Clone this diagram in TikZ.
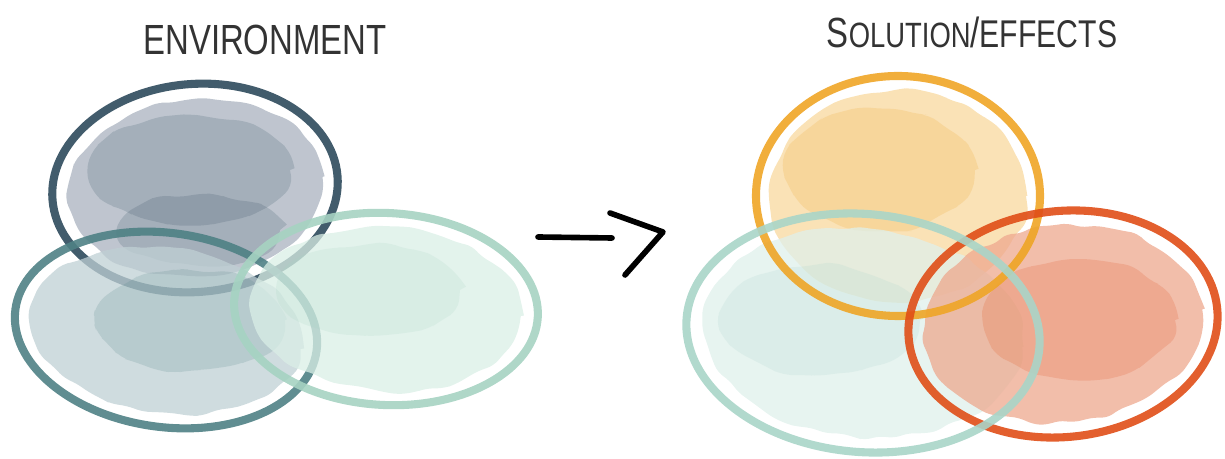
\documentclass[tikz,border=0pt]{standalone}
\usepackage{fontspec}
\usepackage{xcolor}
\usepackage{tikz}
\usetikzlibrary{decorations.pathmorphing}
\newfontfamily\handfont{Liberation Sans}[FakeStretch=0.78]
\definecolor{EnvSlate}{HTML}{2E4A5C}
\definecolor{EnvSlateFill}{HTML}{A9B2BF}
\definecolor{EnvTeal}{HTML}{4F8185}
\definecolor{EnvTealFill}{HTML}{BFD0D4}
\definecolor{EnvMint}{HTML}{A6D3C2}
\definecolor{EnvMintFill}{HTML}{DAEFE6}
\definecolor{SolOrange}{HTML}{EFA526}
\definecolor{SolOrangeFill}{HTML}{F8D89E}
\definecolor{SolRed}{HTML}{E04E17}
\definecolor{SolRedFill}{HTML}{EEA88E}
\definecolor{SolMint}{HTML}{A9D5C8}
\definecolor{SolMintFill}{HTML}{DFF0EB}

\begin{document}
\begin{tikzpicture}[x=0.1mm,y=-0.1mm,
  blob/.style={decorate,decoration={random steps,segment length=4pt,amplitude=.8pt},rounded corners=2pt,fill opacity=.75},
  spot/.style={decorate,decoration={random steps,segment length=5pt,amplitude=1pt},rounded corners=3pt,fill opacity=.18},
  ring/.style={line width=2.3pt,draw opacity=.9},
  title/.style={font=\handfont\fontsize{12}{14}\selectfont,text=black!80}]
\useasboundingbox (0,0) rectangle (1225,459);

% titles
\node[title] (env) at (265,40) {ENVIRONMENT};
\node[title] (sol) at (972,32) {S{\fontsize{10}{12}\selectfont OLUTION}/{\fontsize{11}{12}\selectfont EFFECTS}};

% environment
\fill[EnvSlateFill,blob,rotate around={5:(195,188)}] (195,188) ellipse (128 and 88);
\fill[EnvSlate,spot] (190,170) ellipse (100 and 55);
\fill[EnvSlate,spot] (200,230) ellipse (80 and 35);
\draw[EnvSlate,ring,rotate around={5:(195,188)}] (195,188) ellipse (143 and 104);
\fill[EnvTealFill,blob,rotate around={-8:(166,330)}] (166,330) ellipse (136 and 82);
\fill[EnvTeal,spot] (190,320) ellipse (95 and 50);
\draw[EnvTeal,ring,rotate around={-8:(166,330)}] (166,330) ellipse (152 and 97);
\fill[EnvMintFill,blob,rotate around={-3:(386,309)}] (386,309) ellipse (135 and 82);
\fill[EnvMint,spot] (370,290) ellipse (90 and 45);
\draw[EnvMint,ring,rotate around={-3:(386,309)}] (386,309) ellipse (152 and 96);

% arrow
\coordinate (arrL) at (538,237);
\coordinate (arrM) at (612,238);
\coordinate (tipA) at (610,213);
\coordinate (tipB) at (663,232);
\coordinate (tipC) at (625,275);
\draw[line width=1.6pt,line cap=round] (arrL) -- (arrM);
\draw[line width=1.6pt,line cap=round,line join=round] (tipA) -- (tipB) -- (tipC);

% solution / effects
\fill[SolOrangeFill,blob] (898,196) ellipse (128 and 106);
\fill[SolOrange,spot] (880,170) ellipse (95 and 60);
\fill[SolMintFill,blob,rotate around={-5:(863,333)}] (863,333) ellipse (160 and 104);
\fill[SolMint,spot] (820,320) ellipse (100 and 55);
\fill[SolRedFill,blob,rotate around={6:(1063,324)}] (1063,324) ellipse (140 and 98);
\fill[SolRed,spot] (1080,320) ellipse (95 and 60);
\draw[SolOrange,ring] (898,196) ellipse (142 and 120);
\draw[SolRed,ring,rotate around={6:(1063,324)}] (1063,324) ellipse (155 and 113);
\draw[SolMint,ring,rotate around={-5:(863,333)}] (863,333) ellipse (177 and 119);
\end{tikzpicture}
\end{document}
